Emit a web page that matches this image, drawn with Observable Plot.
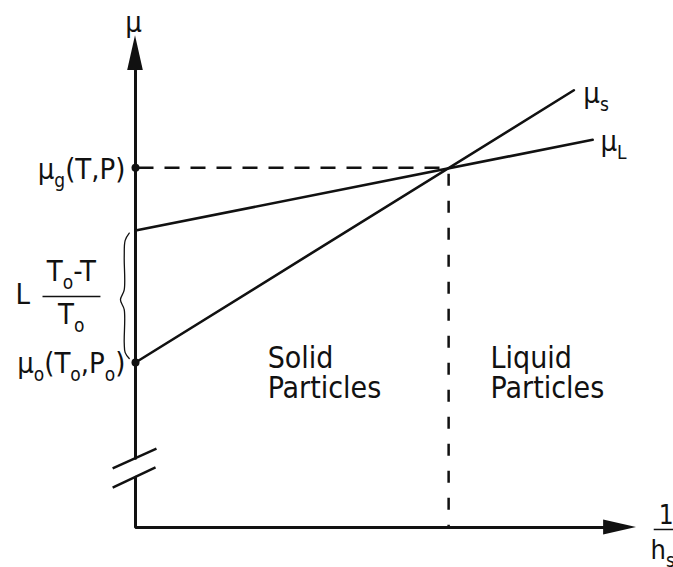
<!DOCTYPE html>
<html>
<head>
<meta charset="utf-8">
<script src="https://cdn.jsdelivr.net/npm/d3@7"></script>
<script src="https://cdn.jsdelivr.net/npm/@observablehq/plot@0.6"></script>
<style>
  html, body { margin: 0; padding: 0; background: #fff; }
  #chart svg { font-family: "DejaVu Sans Condensed", "DejaVu Sans", sans-serif; background: #fff; }
</style>
</head>
<body>
<div id="chart"></div>
<script>
// ---- data (schematic units: x = 1/h_s, y = μ) ----
const muSolidX = [0, 14.0];
const muSolidY = [5.0, 13.25];
const muLiquidX = [0, 14.6];
const muLiquidY = [9.0, 11.75];
const crossX = 10.0;          // 1/h_s where μ_s = μ_L
const crossY = 10.9;          // μ_g(T,P)
const axisDotY = [5.0, 10.9]; // μ_o(T_o,P_o), μ_g(T,P)
const yAxisBreak = [1.52, 2.10];
const yAxisTop = 13.85;
const xAxisEnd = 15.0;
const regionNames = ["Solid\nParticles", "Liquid\nParticles"];
const regionX = [4.22, 11.34];
const regionY = [4.68, 4.68];
const braceX = [-0.2, -0.33, -0.36, -0.36, -0.48, -0.36, -0.36, -0.33, -0.2];
const braceY = [8.92, 8.7, 8.2, 7.2, 6.9, 6.6, 5.6, 5.3, 5.12];

// ---- build tables from arrays ----
const muSolid = muSolidX.map((x, i) => ({x, y: muSolidY[i]}));
const muLiquid = muLiquidX.map((x, i) => ({x, y: muLiquidY[i]}));
const brace = braceX.map((x, i) => ({x, y: braceY[i]}));
const regions = regionNames.map((t, i) => ({t, x: regionX[i], y: regionY[i]}));

const black = "#111";
const FS = 29, SUB = 19;

const chart = Plot.plot({
  width: 673,
  height: 567,
  x: {domain: [0, 16], range: [135, 636], axis: null},
  y: {domain: [0, 15], range: [527, 32], axis: null},
  marks: [
    // axes (with break on the μ axis)
    Plot.line([{x: 0, y: yAxisBreak[0]}, {x: 0, y: 0}, {x: xAxisEnd, y: 0}],
      {x: "x", y: "y", stroke: black, strokeWidth: 3, strokeLinejoin: "miter"}),
    Plot.line([{x: 0, y: yAxisBreak[1]}, {x: 0, y: yAxisTop}],
      {x: "x", y: "y", stroke: black, strokeWidth: 3}),
    Plot.link([{x1: -0.73, y1: 1.79, x2: 0.67, y2: 2.39}, {x1: -0.73, y1: 1.21, x2: 0.64, y2: 1.82}],
      {x1: "x1", y1: "y1", x2: "x2", y2: "y2", stroke: black, strokeWidth: 2.5}),
    // arrowheads
    Plot.areaX([{y: yAxisTop, x1: -0.25, x2: 0.25}, {y: 14.9, x1: 0, x2: 0}],
      {y: "y", x1: "x1", x2: "x2", fill: black}),
    Plot.areaY([{x: xAxisEnd - 0.05, y1: -0.23, y2: 0.23}, {x: 16.0, y1: 0, y2: 0}],
      {x: "x", y1: "y1", y2: "y2", fill: black}),
    // dashed guides
    Plot.link([{x1: 0, y1: crossY, x2: crossX, y2: crossY}],
      {x1: "x1", y1: "y1", x2: "x2", y2: "y2", stroke: black, strokeWidth: 2.5, strokeDasharray: "15,11", strokeDashoffset: -3}),
    Plot.link([{x1: crossX, y1: crossY, x2: crossX, y2: 0}],
      {x1: "x1", y1: "y1", x2: "x2", y2: "y2", stroke: black, strokeWidth: 2.5, strokeDasharray: "12,15", strokeDashoffset: -6}),
    // chemical potential lines
    Plot.line(muSolid, {x: "x", y: "y", stroke: black, strokeWidth: 2.6}),
    Plot.line(muLiquid, {x: "x", y: "y", stroke: black, strokeWidth: 2.6}),
    Plot.dot(axisDotY.map(y => ({x: 0, y})), {x: "x", y: "y", r: 4, fill: black}),
    // brace
    Plot.line(brace, {x: "x", y: "y", curve: "catmull-rom", stroke: black, strokeWidth: 1.3}),
    // labels
    Plot.text([{x: -0.06, y: 15.3, t: "μ"}], {x: "x", y: "y", text: "t", fontSize: FS, fill: black}),
    Plot.text([{x: -0.32, y: 10.85, t: "μ_{g}(T,P)"}], {x: "x", y: "y", text: "t", fontSize: FS, textAnchor: "end", fill: black}),
    Plot.text([{x: -0.32, y: 4.95, t: "μ_{o}(T_{o},P_{o})"}], {x: "x", y: "y", text: "t", fontSize: FS, textAnchor: "end", fill: black}),
    Plot.text([{x: -3.6, y: 7.05, t: "L"}], {x: "x", y: "y", text: "t", fontSize: FS, fill: black}),
    Plot.text([{x: -2.05, y: 7.75, t: "T_{o}-T"}], {x: "x", y: "y", text: "t", fontSize: FS, fill: black}),
    Plot.link([{x1: -2.97, x2: -1.12, y: 7.0}], {x1: "x1", x2: "x2", y1: "y", y2: "y", stroke: black, strokeWidth: 1.5}),
    Plot.text([{x: -2.05, y: 6.45, t: "T_{o}"}], {x: "x", y: "y", text: "t", fontSize: FS, fill: black}),
    Plot.text([{x: 14.3, y: 13.15, t: "μ_{s}"}], {x: "x", y: "y", text: "t", fontSize: FS, textAnchor: "start", fill: black}),
    Plot.text([{x: 14.85, y: 11.68, t: "μ_{L}"}], {x: "x", y: "y", text: "t", fontSize: FS, textAnchor: "start", fill: black}),
    Plot.text(regions, {x: "x", y: "y", text: "t", fontSize: 30, textAnchor: "start", lineHeight: 1.02, fill: black}),
    Plot.text([{x: 16.95, y: 0.35, t: "1"}], {x: "x", y: "y", text: "t", fontSize: 26, fill: black}),
    Plot.link([{x1: 16.55, x2: 17.3, y: -0.06}], {x1: "x1", x2: "x2", y1: "y", y2: "y", stroke: black, strokeWidth: 1.5}),
    Plot.text([{x: 16.45, y: -0.7, t: "h_{s}"}], {x: "x", y: "y", text: "t", fontSize: 27, textAnchor: "start", fill: black})
  ]
});

// turn "_{..}" markup into real subscript tspans
d3.select(chart).selectAll("text").each(function () {
  const t = this.textContent;
  if (!t.includes("_{")) return;
  const el = d3.select(this);
  el.text(null);
  const parts = t.split(/(_\{[^}]*\})/).filter(p => p);
  let shifted = false;
  for (const p of parts) {
    if (p.startsWith("_{")) {
      el.append("tspan").attr("dy", 8).attr("font-size", SUB).text(p.slice(2, -1));
      shifted = true;
    } else {
      const ts = el.append("tspan").text(p);
      if (shifted) { ts.attr("dy", -8); shifted = false; }
    }
  }
});

document.getElementById("chart").appendChild(chart);
</script>
</body>
</html>
